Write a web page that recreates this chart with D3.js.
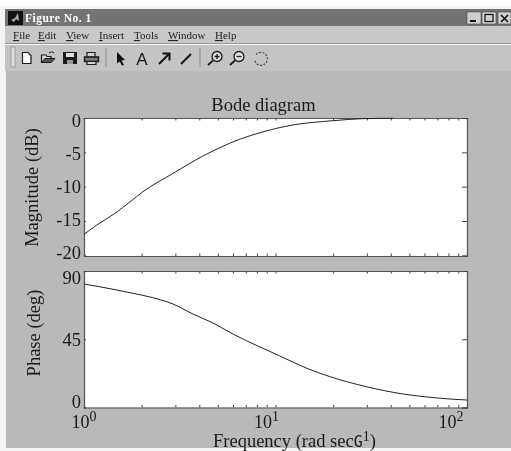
<!DOCTYPE html>
<html>
<head>
<meta charset="utf-8">
<script src="https://cdn.jsdelivr.net/npm/d3@7"></script>
<style>
  html, body { margin: 0; padding: 0; background: #fff; overflow: hidden; }
  svg { display: block; filter: blur(0.35px); }
  text { font-family: "Liberation Serif", serif; fill: #1a1a1a; }
</style>
</head>
<body>
<div id="chart"></div>
<script>
// values
const magFreq = [1, 1.165, 1.45, 1.74, 2.03, 2.92, 4.18, 6.5, 8.3, 12.3, 20, 28.6, 41];
const magDb = [-16.95, -15.6, -13.9, -12.2, -10.74, -8.06, -5.54, -3.1, -2.14, -1.02, -0.39, -0.1, -0.04];
const phaseFreq = [1, 1.21, 1.8, 2.29, 2.92, 3.71, 4.72, 6, 8.3, 10.5, 14.6, 19.3, 29.9, 46.3, 69.5, 100];
const phaseDeg = [81.4, 79.6, 75.3, 72.4, 68.2, 61.6, 55.7, 48.4, 39.9, 34.1, 25.8, 20.3, 13.7, 8.9, 6.3, 4.9];
const magTicks = [0, -5, -10, -15, -20];
const phaseTicks = [0, 45, 90];
const freqMinor = [2, 3, 4, 5, 6, 7, 8, 9, 20, 30, 40, 50, 60, 70, 80, 90];
const freqMajor = [1, 10, 100];
const menuNames = ["File", "Edit", "View", "Insert", "Tools", "Window", "Help"];

let width = 511, height = 451;

let svg = d3.select('#chart')
    .append('svg')
    .attr('width', width)
    .attr('height', height)
    .style('background', '#f4f4f4');

// window chrome
svg.append('rect').attr('x', 0).attr('y', 0).attr('width', width).attr('height', 6).attr('fill', '#fff');
svg.append('rect').attr('x', 5).attr('y', 9).attr('width', 506).attr('height', 17).attr('fill', '#737373');
svg.append('rect').attr('x', 5).attr('y', 26).attr('width', 506).attr('height', 18).attr('fill', '#c8c8c8');
svg.append('rect').attr('x', 5).attr('y', 43).attr('width', 506).attr('height', 1).attr('fill', '#999');
svg.append('rect').attr('x', 5).attr('y', 45).attr('width', 506).attr('height', 26).attr('fill', '#c4c4c4');
svg.append('rect').attr('x', 6).attr('y', 71).attr('width', 505).attr('height', 377).attr('fill', '#b9b9b9');

// title bar
svg.append('rect').attr('x', 8).attr('y', 11).attr('width', 15).attr('height', 14).attr('fill', '#111');
svg.append('path').attr('d', 'M11 20 L15 18 L18 13 L19 21 L16 19 L14 22 Z').attr('fill', '#aaa');
svg.append('text').text('Figure No. 1')
    .attr('x', 25).attr('y', 22)
    .attr('fill', '#fff')
    .style('fill', '#fff')
    .style('font-size', '11.5px')
    .style('font-weight', 'bold')
    .style('letter-spacing', '0.5px');

[[467, '_'], [482, 'max'], [498, 'x']].forEach(function(b) {
    svg.append('rect').attr('x', b[0]).attr('y', 12).attr('width', b[0] == 498 ? 13 : 14).attr('height', 12)
        .attr('fill', '#cfcfcf').attr('stroke', '#444').attr('stroke-width', 0.6);
    if (b[1] == '_') svg.append('rect').attr('x', b[0] + 3).attr('y', 20).attr('width', 6).attr('height', 2).attr('fill', '#111');
    if (b[1] == 'max') svg.append('rect').attr('x', b[0] + 3).attr('y', 14.5).attr('width', 8).attr('height', 7).attr('fill', 'none').attr('stroke', '#111').attr('stroke-width', 1.2);
    if (b[1] == 'x') svg.append('path').attr('d', `M${b[0] + 3} 15 L${b[0] + 10} 22 M${b[0] + 10} 15 L${b[0] + 3} 22`).attr('stroke', '#111').attr('stroke-width', 1.6);
});

// menu bar, first letter underlined
const menuX = d3.scaleOrdinal().domain(menuNames).range([13, 38, 66, 99, 134, 168, 215]);
menuNames.forEach(function(m) {
    let t = svg.append('text').attr('x', menuX(m)).attr('y', 39).style('font-size', '11px').style('fill', '#222');
    t.append('tspan').text(m[0]).style('text-decoration', 'underline');
    t.append('tspan').text(m.slice(1));
});

// toolbar
const ink = '#1c1c1c';
svg.append('rect').attr('x', 11).attr('y', 47).attr('width', 4).attr('height', 20).attr('fill', '#dedede').attr('stroke', '#8a8a8a').attr('stroke-width', 0.7);
svg.append('line').attr('x1', 106).attr('x2', 106).attr('y1', 48).attr('y2', 67).attr('stroke', '#8d8d8d');
svg.append('line').attr('x1', 200).attr('x2', 200).attr('y1', 48).attr('y2', 67).attr('stroke', '#8d8d8d');

function icon(d, fill, stroke, sw) {
    svg.append('path').attr('d', d).attr('fill', fill).attr('stroke', stroke || 'none').attr('stroke-width', sw || 1);
}
// new
icon('M22.5 52.5 H28 L31 55.5 V63.5 H22.5 Z', '#fff', ink, 1.2);
// open
icon('M41.5 62.5 V55 H46 L47 56.5 H51 V62.5 Z', '#d8d8d8', ink, 1.2);
icon('M41.5 62.5 L45 58.5 H55 L51 62.5 Z', '#555', ink, 1);
icon('M49 53 Q52 50.5 54 53', 'none', ink, 1);
// save
icon('M63 52 H77 V64 H63 Z', ink);
icon('M66 53 H74 V57 H66 Z', '#ddd');
icon('M67 60 H73 V64 H67 Z', '#999');
// print
icon('M87 52.5 H95 V57 H87 Z', '#d0d0d0', ink, 1.2);
icon('M84.5 57 H98.5 V61.5 H84.5 Z', '#777', ink, 1.4);
icon('M87 61.5 H96 V64.5 H87 Z', '#d0d0d0', ink, 1.2);
// arrow tool, text, arrow, line
icon('M117 52 L125 60 L121.5 60.5 L124 65 L122 65.5 L119.5 61.5 L117 63.5 Z', '#111');
svg.append('text').text('A').attr('x', 142).attr('y', 64.5).attr('text-anchor', 'middle')
    .style('font-family', '"Liberation Sans", sans-serif').style('font-size', '17px');
icon('M159 64 L169 54 M162.5 53.5 H169.5 V60.5', 'none', '#111', 2);
icon('M181 64 L191 54', 'none', '#111', 2);
// zoom in / zoom out / rotate
[[217, true], [239, false]].forEach(function(z) {
    svg.append('circle').attr('cx', z[0]).attr('cy', 56.5).attr('r', 5).attr('fill', '#ddd').attr('stroke', ink).attr('stroke-width', 1.3);
    icon(`M${z[0] - 4} 60.5 L${z[0] - 9} 65`, 'none', ink, 1.8);
    icon(z[1] ? `M${z[0] - 2.5} 56.5 H${z[0] + 2.5} M${z[0]} 54 V59` : `M${z[0] - 2.5} 56.5 H${z[0] + 2.5}`, 'none', ink, 1.3);
});
svg.append('path').attr('d', 'M256 54.5 A6.5 6.5 0 1 1 254.5 60')
    .attr('fill', 'none').attr('stroke', '#444').attr('stroke-width', 1.2).attr('stroke-dasharray', '2 1.5');

// scales, both panels share the same x
const x = d3.scaleLog().domain([1, 100]).range([84, 467]);
const yMag = d3.scaleLinear().domain([-20.1, 0]).range([256, 118]);
const yPhase = d3.scaleLinear().domain([0, 90]).range([407.5, 271]);

function drawPanel(y, ticks, labelY) {
    let top = y.range()[1], bottom = y.range()[0];

    svg.append('rect')
        .attr('x', x.range()[0]).attr('y', top)
        .attr('width', x.range()[1] - x.range()[0]).attr('height', bottom - top)
        .attr('fill', '#fff');

    // ticks point inwards on all four sides
    svg.append('g').attr('class', 'tick-x')
        .attr('transform', `translate(0,${bottom})`)
        .call(d3.axisBottom(x).tickValues(freqMinor.concat(freqMajor)).tickSize(-2.5).tickFormat(''));
    svg.append('g').attr('class', 'tick-x')
        .attr('transform', `translate(0,${top})`)
        .call(d3.axisTop(x).tickValues(freqMinor.concat(freqMajor)).tickSize(-2.5).tickFormat(''));
    svg.append('g').attr('class', 'tick-y')
        .attr('transform', `translate(${x.range()[1]},0)`)
        .call(d3.axisRight(y).tickValues(ticks).tickSize(-5).tickFormat(''));

    // plain hyphen on the negative labels, like the original
    let left = svg.append('g').attr('class', 'tick-y')
        .attr('transform', `translate(${x.range()[0]},0)`)
        .call(d3.axisLeft(y).tickValues(ticks).tickSize(-2).tickPadding(3).tickFormat(d => String(d)));

    // labels do not sit exactly on their ticks in the original
    left.selectAll('text')
        .attr('y', d => labelY(d) - y(d))
        .attr('dy', '0.33em')
        .style('font-size', '18.5px')
        .style('font-family', '"Liberation Serif", serif')
        .style('fill', '#1a1a1a');

    svg.selectAll('.tick-x path, .tick-y path').attr('stroke', '#555').attr('stroke-width', 1.2);
    svg.selectAll('.tick-x line, .tick-y line').attr('stroke', '#444');
}

const magLabelY = d3.scaleLinear().domain([0, -20]).range([120, 252]);
const phaseLabelY = d3.scaleLinear().domain([90, 0]).range([277, 401]);
drawPanel(yMag, magTicks, magLabelY);
drawPanel(yPhase, phaseTicks, phaseLabelY);

// curves
const magLine = d3.line().x(i => x(magFreq[i])).y(i => yMag(magDb[i])).curve(d3.curveMonotoneX);
const phaseLine = d3.line().x(i => x(phaseFreq[i])).y(i => yPhase(phaseDeg[i])).curve(d3.curveMonotoneX);

svg.append('path')
    .attr('d', magLine(d3.range(magFreq.length)))
    .attr('fill', 'none').attr('stroke', '#222').attr('stroke-width', 1);
svg.append('path')
    .attr('d', phaseLine(d3.range(phaseFreq.length)))
    .attr('fill', 'none').attr('stroke', '#222').attr('stroke-width', 1);

// decade labels along the bottom
const decadeShift = d3.scaleOrdinal().domain(freqMajor).range([0, -9, -16]);
freqMajor.forEach(function(f, i) {
    let t = svg.append('text')
        .attr('x', x(f) + decadeShift(f))
        .attr('y', 428)
        .attr('text-anchor', 'middle')
        .style('font-size', '18px');
    t.append('tspan').text('10');
    t.append('tspan').text(i).attr('dy', -7).style('font-size', '14px');
});

// titles
svg.append('text').text('Bode diagram')
    .attr('x', 263.5).attr('y', 111)
    .attr('text-anchor', 'middle')
    .style('font-size', '18.5px');

svg.append('text').text('Magnitude (dB)')
    .attr('transform', 'translate(38,187.5) rotate(-90)')
    .attr('text-anchor', 'middle')
    .style('font-size', '18.5px');

svg.append('text').text('Phase (deg)')
    .attr('transform', 'translate(40,333) rotate(-90)')
    .attr('text-anchor', 'middle')
    .style('font-size', '18.5px');

let xlabel = svg.append('text').attr('x', 213).attr('y', 447).style('font-size', '18.5px');
xlabel.append('tspan').text('Frequency (rad sec');
xlabel.append('tspan').text('G').style('font-family', '"DejaVu Sans Mono", monospace').style('font-size', '15px');
xlabel.append('tspan').text('1').attr('dy', -6).style('font-size', '14px');
xlabel.append('tspan').text(')').attr('dy', 6);
</script>
</body>
</html>
